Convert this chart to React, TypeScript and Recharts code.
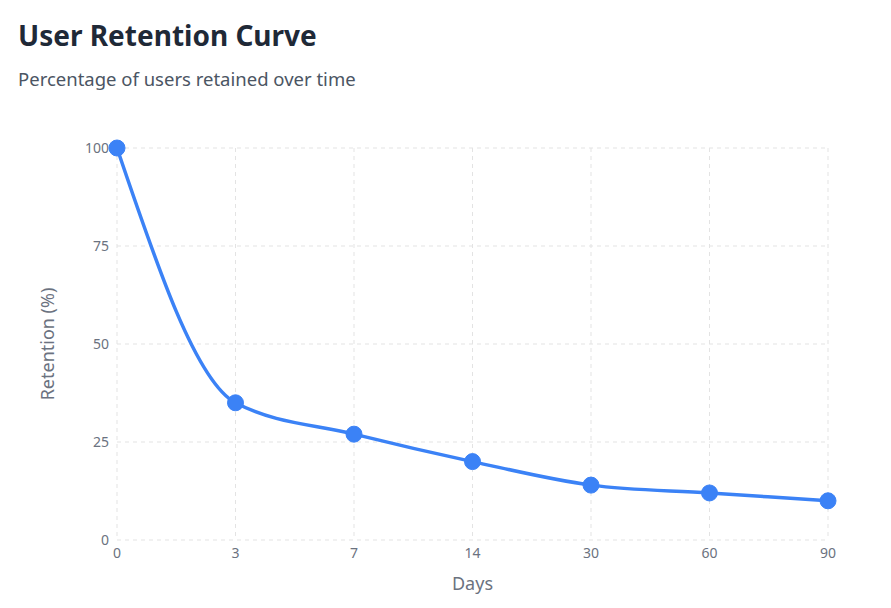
import React from "react";
import { LineChart, Line, XAxis, YAxis, CartesianGrid } from "recharts";

const days = ["0", "3", "7", "14", "30", "60", "90"];
const retention = [100, 35, 27, 20, 14, 12, 10];
const yTicks = [0, 25, 50, 75, 100];

const data = days.map((d, i) => ({ day: d, retention: retention[i] }));

const FONT = "'Noto Sans', 'Segoe UI', sans-serif";

export default function App() {
  return (
    <div style={{ fontFamily: FONT, width: 875, height: 592 }}>
      <div style={{ paddingLeft: 10, paddingTop: 8, height: 112, boxSizing: "border-box" }}>
        <div style={{ fontSize: 28, fontWeight: 700, color: "#1f2937", lineHeight: "38px", margin: 0 }}>
          User Retention Curve
        </div>
        <div style={{ fontSize: 18.5, color: "#4b5563", lineHeight: "26px", marginTop: 12 }}>
          Percentage of users retained over time
        </div>
      </div>
      <LineChart
        width={860}
        height={480}
        data={data}
        margin={{ top: 28, right: 40, bottom: 10, left: 49 }}
      >
        <CartesianGrid stroke="#e3e3e3" strokeDasharray="4 4" />
        <XAxis
          dataKey="day"
          axisLine={false}
          tickLine={false}
          height={50}
          tick={{ fill: "#6b7280", fontSize: 14, fontFamily: FONT }}
          label={{
            value: "Days",
            position: "insideBottom",
            offset: 0,
            style: { fill: "#6b7280", fontSize: 18, fontFamily: FONT },
          }}
        />
        <YAxis
          domain={[0, 100]}
          ticks={yTicks}
          axisLine={false}
          tickLine={false}
          width={60}
          tick={{ fill: "#6b7280", fontSize: 14, fontFamily: FONT }}
          label={{
            value: "Retention (%)",
            angle: -90,
            position: "insideLeft",
            offset: -9,
            style: { textAnchor: "middle", fill: "#6b7280", fontSize: 18, fontFamily: FONT },
          }}
        />
        <Line
          type="monotone"
          dataKey="retention"
          stroke="#3b82f6"
          strokeWidth={3.5}
          dot={{ r: 8, fill: "#3b82f6", stroke: "#3b82f6", strokeWidth: 1 }}
          isAnimationActive={false}
        />
      </LineChart>
    </div>
  );
}
